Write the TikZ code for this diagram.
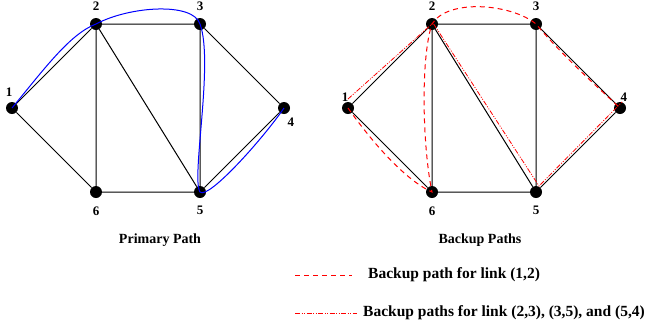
\documentclass[tikz,border=0pt]{standalone}
\usepackage{fontspec}
\setmainfont{Liberation Serif}
\usetikzlibrary{positioning}
\definecolor{pathred}{RGB}{255,0,0}
\tikzset{
  vtx/.style={circle,fill=black,inner sep=0pt,minimum size=12pt},
  lbl/.style={font=\bfseries\fontsize{13}{15}\selectfont,inner sep=0pt},
  link/.style={black,line width=1pt},
  primary/.style={blue,line width=1pt},
  backupA/.style={draw=pathred,line width=1pt,dash pattern=on 5pt off 4pt},
  backupB/.style={draw=pathred,line width=0.8pt,dash pattern=on 5pt off 1.5pt on 1pt off 1.5pt on 1pt off 1.5pt},
  caption/.style={font=\bfseries\fontsize{14}{16}\selectfont,inner sep=0pt},
  legtext/.style={font=\bfseries\fontsize{15.5}{18}\selectfont,inner sep=0pt,anchor=west}
}
% six nodes and the nine links of one network, #1 = prefix, #2 = x shift
\newcommand{\netgraph}[2]{%
  \begin{scope}[shift={(#2,0)}]
    \node[vtx] (#1-1) at (12,108) {};
    \node[vtx] (#1-2) at (96,24) {};
    \node[vtx] (#1-3) at (200,24) {};
    \node[vtx] (#1-4) at (284,108) {};
    \node[vtx] (#1-5) at (200,192) {};
    \node[vtx] (#1-6) at (96,192) {};
  \end{scope}
  \draw[link] (#1-1) -- (#1-2) -- (#1-3) -- (#1-4) -- (#1-5) -- (#1-6) -- (#1-1);
  \draw[link] (#1-2) -- (#1-6) (#1-2) -- (#1-5) (#1-3) -- (#1-5);
  \node[lbl,above=7pt of #1-2] (#1-l2) {2};
  \node[lbl,above=7pt of #1-3] (#1-l3) {3};
  \node[lbl,below=8pt of #1-5] (#1-l5) {5};
  \node[lbl,below=8pt of #1-6] (#1-l6) {6};}

\begin{document}
\begin{tikzpicture}[x=1pt,y=-1pt]
  \useasboundingbox (0,0) rectangle (648,330);
  \netgraph{a}{0}
  \netgraph{b}{336}
  \node[lbl,above left=7pt and -5pt of a-1] (a-l1) {1};
  \node[lbl,below right=5pt and -1pt of a-4] (a-l4) {4};
  \node[lbl,above left=2pt and -5pt of b-1] (b-l1) {1};
  \node[lbl,above right=2pt and -4pt of b-4] (b-l4) {4};
  % primary path 1-2-3-5-4
  \draw[primary] (a-1.center) .. controls (45,68) and (70,34) .. (a-2.center)
    .. controls (130,6) and (193,2) .. (a-3.center)
    .. controls (214,62) and (191,178) .. (a-5.center)
    .. controls (208,200) and (262,140) .. (a-4.center);
  % backup paths
  \draw[backupA] (b-1.center) .. controls (372,142) and (405,180) .. (b-6.center)
    .. controls (423,150) and (420,60) .. (b-2.center)
    .. controls (448,-2) and (512,4) .. (b-3.center)
    .. controls (563,56) and (592,82) .. (b-4.center);
  \draw[backupB] ([shift={(0pt,9pt)}]b-1.center) -- ([shift={(1pt,1pt)}]b-2.center)
    -- ([shift={(3pt,6pt)}]b-5.center) -- ([shift={(2pt,6pt)}]b-4.center);
  \node[caption] (capA) at (160,240) {Primary Path};
  \node[caption] (capB) at (480,240) {Backup Paths};
  % legend
  \coordinate (lgA1) at (295,275.5);
  \coordinate (lgA2) at (352,275.5);
  \coordinate (lgB1) at (295,313.5);
  \coordinate (lgB2) at (357,313.5);
  \draw[backupA,line width=1.2pt] (lgA1) -- (lgA2);
  \draw[backupB,line width=1.2pt] (lgB1) -- (lgB2);
  \node[legtext] (txA) at (368,275) {Backup path for link (1,2)};
  \node[legtext] (txB) at (363,313) {Backup paths for link (2,3), (3,5), and (5,4)};
\end{tikzpicture}
\end{document}
